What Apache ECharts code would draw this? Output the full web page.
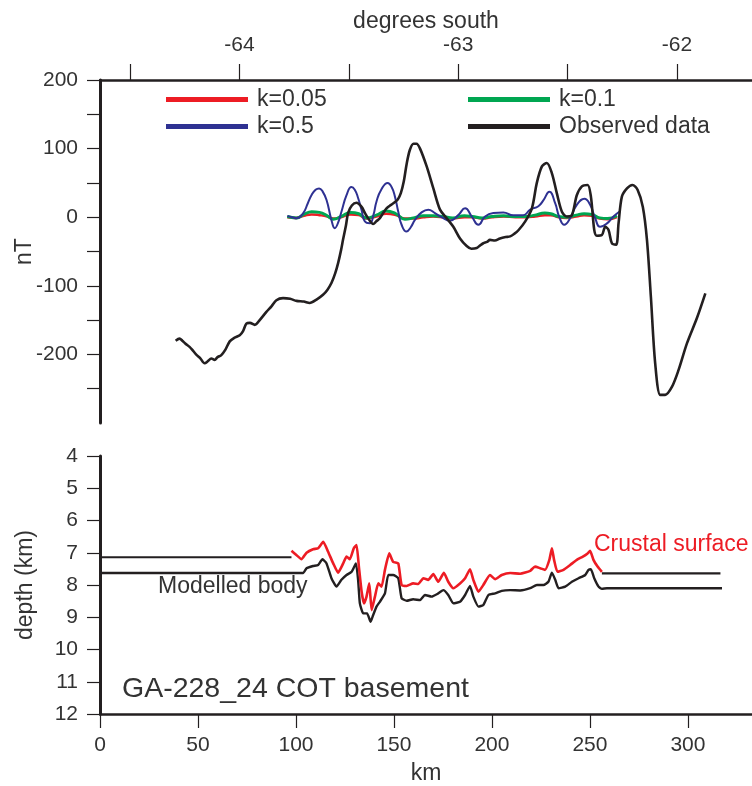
<!DOCTYPE html>
<html>
<head>
<meta charset="utf-8">
<script src="https://cdn.jsdelivr.net/npm/echarts@6/dist/echarts.min.js"></script>
<style>
  html, body { margin: 0; padding: 0; background: #fff; }
  #chart { width: 752px; height: 786px; }
</style>
</head>
<body>
<div id="chart"></div>
<script>
// Magnetic anomaly profile (nT) against distance along line (km)
const observedData = [
  [38.6,-180],[40.6,-177],[42,-180],[43.5,-184],[45.7,-189],[47,-193],[49,-200],[51,-205],
  [53.4,-213],[55,-210],[56.8,-206],[58.5,-208],[60,-204],[61.9,-201],[64,-193],[66.2,-181],
  [68.5,-176],[71.3,-172],[73,-166],[74.7,-155],[76.5,-154],[79,-157],[81.5,-150],[84.9,-138],
  [87.5,-130],[90,-121],[93.4,-118],[97,-119],[100.3,-122],[104,-123],[107,-125],[110.5,-120],
  [113.8,-113],[116,-106],[118.1,-96],[120,-82],[121.5,-67],[123,-48],[124,-33],[125.5,-12],
  [126.6,6],[128.5,17],[130.9,21],[133.5,15],[135.2,6],[136.8,-1.5],[139.4,-10],[141,-6],
  [142.8,-1.5],[144.5,6],[146.2,13],[148.5,18],[150.5,22],[152,26],[153.5,35],[155,52],
  [156.5,78],[158.1,98],[160,107],[161.5,107],[163.3,100],[166.7,74],[170.1,42],[173.5,11],
  [176.9,-1.5],[180.3,-14],[183.7,-31],[187.1,-42],[189.5,-46],[192.2,-45],[194,-41],[195.6,-38],
  [197.5,-36],[199,-33],[201.5,-34],[204.1,-31],[207,-29],[209.3,-28],[211.5,-24],[213.5,-19],
  [217,-6],[220.4,13],[222.9,50],[225.5,74],[228,79],[230.6,64],[233.1,35],[235.7,8],
  [238.2,1],[240.8,3],[243.3,32],[245.9,45],[248.8,47],[250.5,30],[252.2,-18.5],[253.5,-27],
  [256.1,-26],[257.8,-14],[259.5,-18.5],[261.2,-38],[263.4,-40],[264.6,-9],[266.3,30],[268.9,42],
  [271.7,47],[274.3,40],[277,15],[279.1,-33],[281.1,-116],[283.3,-213],[285.9,-259],[288.4,-259],
  [291.9,-247],[295.2,-223],[299.5,-184],[304.6,-147],[308.9,-111]
];

// Model responses for three susceptibility values
const k05Data = [
  [95.6,2],[98,0],[100.3,-1.5],[103.7,6],[106,20],[107.9,32],[110,40],[111.8,42],[113.5,38],
  [115.6,25],[118.1,-4],[119.8,-16],[121.5,-8],[123.2,8],[125.8,32],[128.3,44],[130,40],
  [131.7,28],[133.5,10],[135.1,-6],[137.7,-9],[139.5,3],[141.1,23],[143.5,40],[146.8,50],
  [148.8,44],[150.5,30],[152.2,8],[153.9,-11],[156.4,-21],[158.5,-15],[160.7,-4],[164.1,7],
  [167.5,11],[170.9,6],[174.3,0],[178.6,-5],[182.8,3],[186.3,13],[189.7,1],[193.1,-11],
  [196.5,1],[200.7,6],[205.8,7],[210.9,3],[216,3],[219.5,11],[223.7,16],[226.3,25],
  [229.3,37],[232.3,20],[234.4,0],[236.9,-11],[239.9,-1.5],[243.3,18],[247.2,27],[250.1,18],
  [252.7,-1.5],[255.2,-14],[258.7,-9],[262,1],[265.5,9]
];
const k01Data = [
  [95.6,1],[100.3,-1],[104,4],[108,8],[112,7],[116,2],[119,-3],[123,1],[128,7],[132,5],
  [136,-1],[141,3],[146,9],[151,5],[155.6,-3],[160,-1],[165,2],[170,2],[175,1],[180,-1],
  [186,2],[190,1],[195,-1],[200,1],[206,2],[212,1],[217,1],[222,3],[227,6],[230,5],
  [234,1],[238,0],[243,3],[247,5],[251,4],[255,-1],[259,-2],[263.8,2]
];
const k005Data = [
  [95.6,0],[100,-1],[104,2],[108,4],[112,3],[116,1],[119,-2],[123,0],[128,4],[132,3],
  [136,-2],[141,1],[146,5],[151,3],[155.6,-2],[160,-2],[165,0],[170,1],[175,0],[180,-2],
  [186,0],[190,0],[195,-2],[200,0],[206,1],[212,0],[217,0],[222,1],[227,3],[230,3],
  [234,0],[238,-1],[243,1],[247,3],[251,2],[255,-2],[259,-3],[263.8,0]
];

// Depth (km) of the crustal surface and the modelled body
const crustData = [
  [97.7,6.94],[100.2,7.07],[102.8,7.20],[105.4,7.00],[108.7,6.89],[111.3,6.86],[113.9,6.66],
  [116.4,6.97],[119,7.33],[121.5,7.62],[124.1,7.33],[125.8,7.12],[127.5,7.20],[129.5,6.86],
  [130.9,6.76],[132.1,7.43],[133.5,8.21],[134.7,8.57],[136,8.36],[137.4,7.95],[138.6,8.78],
  [140.3,8.36],[142,7.95],[143.7,8.05],[145.4,7.53],[147.6,7.02],[149.6,7.28],[152.2,7.33],
  [153.9,8.00],[156.5,8.03],[159.8,7.95],[162.4,7.97],[165,7.79],[167.5,7.84],[170.1,7.66],
  [172.6,7.90],[175.5,7.62],[177.7,7.90],[180.3,8.10],[183.7,7.95],[186.3,7.79],[188.8,7.51],
  [190.5,7.84],[193.1,8.21],[195.6,8.00],[199,7.69],[201.6,7.82],[205,7.69],[209.3,7.63],
  [214.4,7.65],[219.5,7.56],[222,7.43],[224.6,7.48],[227.1,7.53],[229.3,7.22],[230.6,6.86],
  [231.7,7.22],[233.4,7.59],[236.5,7.53],[239.9,7.38],[243.3,7.22],[246.4,7.12],[248.8,7.02],
  [250.1,6.94],[251.8,7.22],[253.9,7.43],[256.1,7.59]
];
const crustWestData = [[0,7.14],[97.7,7.14]];
const crustEastData = [[256.1,7.64],[316.6,7.64]];
const bodyData = [
  [0,7.63],[103.6,7.63],[105.4,7.48],[108.7,7.41],[111.3,7.38],[113.5,7.20],[115.6,7.33],
  [118.1,7.79],[120.7,8.05],[123.2,7.84],[125.8,7.69],[128.4,7.59],[130.6,7.33],[131.7,7.84],
  [132.6,8.57],[134.3,8.88],[136.3,8.88],[138.1,9.14],[139.4,8.93],[141.1,8.67],[142.8,8.52],
  [145.4,8.26],[147.1,7.69],[149.6,7.69],[152.2,7.79],[153.9,8.41],[156.5,8.49],[159.8,8.44],
  [163.3,8.47],[165.8,8.31],[169.2,8.36],[172.6,8.26],[175.2,8.16],[177.7,8.31],[180.3,8.57],
  [183.7,8.52],[186.3,8.31],[188.8,8.03],[190.5,8.36],[193.1,8.67],[195.6,8.62],[198.2,8.31],
  [201.6,8.26],[205,8.18],[209.3,8.16],[214.4,8.17],[219.5,8.10],[222.9,8.00],[226.3,8.00],
  [228.8,7.90],[230.6,7.62],[232.3,7.84],[234,8.10],[237.4,8.05],[240.8,7.90],[244.2,7.79],
  [247.6,7.69],[249.3,7.53],[250.5,7.51],[252.2,7.79],[254.4,8.05],[256.1,8.12],[258.7,8.10],
  [317.4,8.10]
];

// Axis ticks and labels
const latTicks = [-64.5, -64, -63.5, -63, -62.5, -62];
const latLabels = [-64, -63, -62];
const nTTicks = [-250, -200, -150, -100, -50, 0, 50, 100, 150, 200];
const nTLabels = [-200, -100, 0, 100, 200];

const INK = '#231f20';
const TEXT = '#333333';
const FONT = 'Liberation Sans, Arial, sans-serif';
const RED = '#ed1c24', GREEN = '#00a651', BLUE = '#2e3192';

const KM_MAX = 332.7;
const LAT_MIN = -64.638, LAT_MAX = -61.657;

const labelStyle = { color: TEXT, fontSize: 21, fontFamily: FONT };
const nameStyle = { color: TEXT, fontSize: 23, fontFamily: FONT };

function lineSeries(name, data, color, width, xIdx, yIdx, z, smooth) {
  return {
    name, type: 'line', data, xAxisIndex: xIdx, yAxisIndex: yIdx,
    showSymbol: false, symbol: 'none', smooth: smooth || false, z: z || 2,
    color, lineStyle: { color, width }, silent: true, animation: false
  };
}

function legendItem(name, left, top) {
  return {
    data: [name], left, top, icon: 'rect', itemWidth: 82, itemHeight: 5,
    padding: 0, selectedMode: false,
    textStyle: { color: TEXT, fontSize: 23, fontFamily: FONT, padding: [0, 0, 0, 4] }
  };
}

const chart = echarts.init(document.getElementById('chart'));
chart.setOption({
  animation: false,
  backgroundColor: '#fff',
  grid: [
    { left: 100, right: 0, top: 80, height: 343, containLabel: false, outerBoundsMode: 'none' },
    { left: 100, right: 0, top: 456, height: 258, containLabel: false, outerBoundsMode: 'none' }
  ],
  legend: [
    legendItem('k=0.05', 166, 88),
    legendItem('k=0.1', 468, 88),
    legendItem('k=0.5', 166, 115),
    legendItem('Observed data', 468, 115)
  ],
  xAxis: [
    { gridIndex: 0, type: 'value', min: 0, max: KM_MAX, show: false },
    {
      gridIndex: 0, type: 'value', position: 'top', min: LAT_MIN, max: LAT_MAX,
      name: 'degrees south', nameLocation: 'middle', nameGap: 47, nameMoveOverlap: false,
      nameTextStyle: nameStyle,
      axisLine: { show: true, lineStyle: { color: INK, width: 2.5 } },
      axisTick: { show: true, customValues: latTicks, length: 16, lineStyle: { color: INK, width: 1.2 } },
      axisLabel: { show: true, customValues: latLabels, margin: 24, ...labelStyle,
        formatter: v => String(Math.round(v)) },
      splitLine: { show: false }
    },
    {
      gridIndex: 1, type: 'value', min: 0, max: KM_MAX, interval: 50,
      name: 'km', nameLocation: 'middle', nameGap: 48, nameMoveOverlap: false, nameTextStyle: nameStyle,
      axisLine: { show: true, lineStyle: { color: INK, width: 2.5 } },
      axisTick: { show: true, length: 14, lineStyle: { color: INK, width: 1.2 } },
      axisLabel: { show: true, margin: 21, ...labelStyle, showMaxLabel: false },
      splitLine: { show: false }
    }
  ],
  yAxis: [
    {
      gridIndex: 0, type: 'value', min: -300, max: 200,
      name: 'nT', nameLocation: 'middle', nameGap: 64, nameMoveOverlap: false,
      nameRotate: 90, nameTextStyle: nameStyle,
      axisLine: { show: true, lineStyle: { color: INK, width: 3 } },
      axisTick: { show: true, customValues: nTTicks, length: 13, lineStyle: { color: INK, width: 1.2 } },
      axisLabel: { show: true, customValues: nTLabels, margin: 22, ...labelStyle },
      splitLine: { show: false }
    },
    {
      gridIndex: 1, type: 'value', min: 4, max: 12, interval: 1, inverse: true,
      name: 'depth (km)', nameLocation: 'middle', nameGap: 63, nameMoveOverlap: false,
      nameRotate: 90, nameTextStyle: nameStyle,
      axisLine: { show: true, lineStyle: { color: INK, width: 3 } },
      axisTick: { show: true, length: 13, lineStyle: { color: INK, width: 1.2 } },
      axisLabel: { show: true, margin: 22, ...labelStyle },
      splitLine: { show: false }
    }
  ],
  series: [
    lineSeries('k=0.05', k005Data, RED, 2.5, 0, 0, 2, 0.5),
    lineSeries('k=0.1', k01Data, GREEN, 3, 0, 0, 3, 0.5),
    lineSeries('k=0.5', k05Data, BLUE, 2, 0, 0, 4, 0.5),
    lineSeries('Observed data', observedData, INK, 2.6, 0, 0, 5, 0.3),
    lineSeries('Crustal surface', crustData, RED, 2.6, 2, 1, 3, 0.15),
    lineSeries('crust-west', crustWestData, INK, 2.2, 2, 1, 2),
    lineSeries('crust-east', crustEastData, INK, 2.2, 2, 1, 2),
    lineSeries('Modelled body', bodyData, INK, 2.4, 2, 1, 2, 0.15)
  ],
  graphic: [
    { type: 'text', left: 594, top: 533, silent: true,
      style: { text: 'Crustal surface', fill: RED, font: '23px ' + FONT } },
    { type: 'text', left: 158, top: 575, silent: true,
      style: { text: 'Modelled body', fill: TEXT, font: '23px ' + FONT } },
    { type: 'text', left: 122, top: 675, silent: true,
      style: { text: 'GA-228_24 COT basement', fill: TEXT, font: '28.5px ' + FONT } }
  ]
});
</script>
</body>
</html>
